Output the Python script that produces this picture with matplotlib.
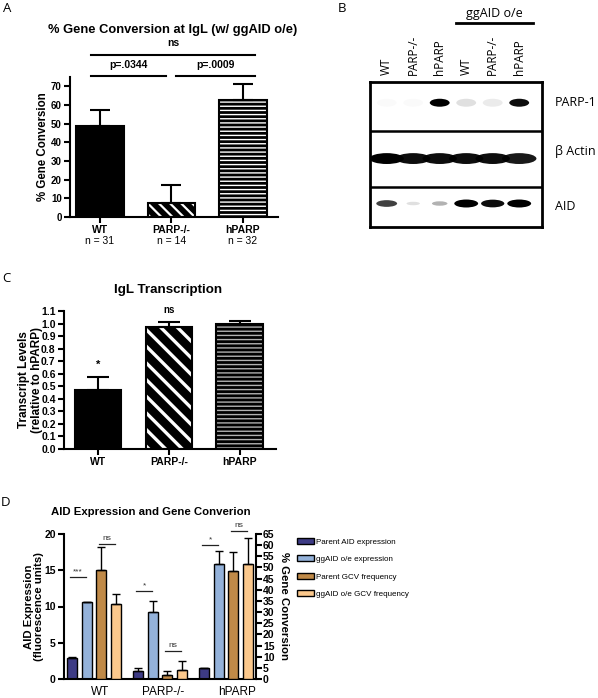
import matplotlib
matplotlib.use('Agg')
import matplotlib.pyplot as plt
from matplotlib.patches import Ellipse, Patch
from matplotlib.lines import Line2D
from matplotlib.transforms import blended_transform_factory
import numpy as np

plt.rcParams['font.family'] = ['Liberation Sans', 'DejaVu Sans']

W, H = 598, 698

# ---------------- data ----------------
# Panel A - % gene conversion at IgL (ggAID o/e)
a_groups = ['WT', 'PARP-/-', 'hPARP']
a_counts = ['n = 31', 'n = 14', 'n = 32']
a_means = [48.5, 7.5, 62.5]
a_errs = [9.0, 9.5, 9.0]

# Panel B - western blot, relative band strength per lane
b_lanes = ['WT', 'PARP-/-', 'hPARP', 'WT', 'PARP-/-', 'hPARP']
b_rows = ['PARP-1', 'β Actin', 'AID']
b_parp1 = [0.02, 0.02, 1.0, 0.12, 0.08, 0.95]
b_actin = [1.0, 0.95, 0.95, 0.95, 0.95, 0.9]
b_aid = [0.75, 0.12, 0.3, 1.0, 0.95, 1.0]

# Panel C - IgL transcription (relative to hPARP)
c_means = [0.47, 0.97, 1.0]
c_errs = [0.105, 0.04, 0.02]

# Panel D - AID expression (left axis) and gene conversion (right axis)
d_groups = ['WT', 'PARP-/-', 'hPARP']
d_parent_aid = [2.9, 1.1, 1.5]
d_parent_aid_err = [0.08, 0.42, 0.05]
d_oe_aid = [10.6, 9.2, 15.9]
d_oe_aid_err = [0.06, 1.5, 1.7]
d_parent_gcv = [48.8, 1.8, 48.2]
d_parent_gcv_err = [10.5, 2.0, 8.9]
d_oe_gcv = [33.5, 3.9, 51.7]
d_oe_gcv_err = [4.5, 4.1, 11.7]
d_labels = ['Parent AID expression', 'ggAID o/e expression',
            'Parent GCV frequency', 'ggAID o/e GCV frequency']
d_colors = ['#3d3b85', '#94b2da', '#c08a48', '#fbc88c']
# (group, first bar, second bar, height in % units, label)
d_sig = [(0, 0, 1, 45.6, '***'), (0, 2, 3, 60.7, 'ns'),
         (1, 0, 1, 39.5, '*'), (1, 2, 3, 12.6, 'ns'),
         (2, 0, 1, 60.0, '*'), (2, 2, 3, 66.4, 'ns')]


def px_axes(fig, left, top, right, bottom):
    """Add axes from pixel box (origin top-left)."""
    return fig.add_axes([left / W, 1 - bottom / H,
                         (right - left) / W, (bottom - top) / H])


def fig_text(fig, x, y, s, **kw):
    fig.text(x / W, 1 - y / H, s, **kw)


def style_axes(ax, lw=1.5, ticklen=4, size=7):
    for side in ['top', 'right']:
        ax.spines[side].set_visible(False)
    for side in ['left', 'bottom']:
        ax.spines[side].set_linewidth(lw)
    ax.tick_params(direction='out', length=ticklen, width=lw, labelsize=size, pad=2)
    for lab in ax.get_yticklabels() + ax.get_xticklabels():
        lab.set_fontweight('bold')


def hatched_bar(ax, x, h, width, hatch, hatch_color, hatch_lw):
    with plt.rc_context({'hatch.linewidth': hatch_lw}):
        ax.bar(x, h, width, color='black', edgecolor=hatch_color,
               hatch=hatch, linewidth=0)
    ax.bar(x, h, width, fill=False, edgecolor='black', linewidth=1.5)


def set_ylabel_at(ax, text, x, size, rotation=90):
    ax.set_ylabel(text, fontsize=size, fontweight='bold', linespacing=1.1,
                  rotation=rotation)
    ax.yaxis.label.set_va('center')
    ax.yaxis.label.set_ha('center')
    ax.yaxis.set_label_coords(x, 0.5)


fig = plt.figure(figsize=(W / 100, H / 100), dpi=100)

# ---------------- panel letters ----------------
for letter, (x, y) in zip('ABCD', [(7, 9), (342, 8), (6, 278), (6, 502)]):
    fig_text(fig, x, y, letter, family='Open Sans', fontsize=9.5,
             ha='center', va='center')

# ======================== PANEL A ========================
ax_a = px_axes(fig, 70, 77, 278, 217)
xa = np.arange(len(a_groups))
ax_a.bar(xa[0], a_means[0], 0.68, color='black', edgecolor='black', linewidth=1.5)
hatched_bar(ax_a, xa[1], a_means[1], 0.66, '\\\\\\', 'white', 1.6)
hatched_bar(ax_a, xa[2], a_means[2], 0.66, '----', 'white', 1.0)
ax_a.errorbar(xa, a_means, yerr=[np.zeros(3), a_errs], fmt='none',
              ecolor='black', elinewidth=1.5, capsize=7.5, capthick=1.5)
ax_a.set_xlim(-0.42, 2.49)
ax_a.set_ylim(0, 75)
ax_a.set_yticks(np.arange(0, 71, 10))
ax_a.set_xticks(xa)
ax_a.set_xticklabels(a_groups)
set_ylabel_at(ax_a, '% Gene Conversion', -0.13, 8.3)
style_axes(ax_a)
ax_a.tick_params(axis='x', labelsize=7.5)
ta = ax_a.get_xaxis_transform()
for xi, n in zip(xa, a_counts):
    ax_a.text(xi, -0.17, n, transform=ta, ha='center', va='center', fontsize=7.5)

# significance bars
for x0, x1, y, lab, ty in [(-0.13, 2.17, 86.9, 'ns', 90.4),
                           (-0.13, 0.92, 75.4, 'p=.0344', 78.9),
                           (1.06, 2.17, 75.4, 'p=.0009', 78.9)]:
    ax_a.plot([x0, x1], [y, y], color='black', lw=1.5, clip_on=False)
    ax_a.text((x0 + x1) / 2, ty, lab, ha='center', va='bottom',
              fontsize=7.5, fontweight='bold')

fig_text(fig, 173, 30, '% Gene Conversion at IgL (w/ ggAID o/e)',
         ha='center', va='center', fontsize=9.3, fontweight='bold')

# ======================== PANEL B ========================
ax_b = px_axes(fig, 370, 82, 542, 227)
ax_b.set_xlim(-0.63, 5.86)
ax_b.set_ylim(0, 1)
ax_b.set_xticks([])
ax_b.set_yticks([])
for sp in ax_b.spines.values():
    sp.set_linewidth(2)
ax_b.axhline(0.662, color='black', lw=1.8)
ax_b.axhline(0.276, color='black', lw=1.8)

row_y = [0.857, 0.472, 0.162]
for i in range(len(b_lanes)):
    # PARP-1
    v = b_parp1[i]
    ax_b.add_patch(Ellipse((i, row_y[0]), 0.75, 0.055, color='black', alpha=v, lw=0))
    # beta actin
    v = b_actin[i]
    ax_b.add_patch(Ellipse((i, row_y[1]), 1.3, 0.075, color='black', alpha=v, lw=0))
    # AID
    v = b_aid[i]
    ax_b.add_patch(Ellipse((i, row_y[2]), 0.45 + 0.45 * v, 0.02 + 0.035 * v,
                           color='black', alpha=v, lw=0))

tb = blended_transform_factory(ax_b.transData, ax_b.transAxes)
for i, lab in enumerate(b_lanes):
    ax_b.text(i, 1.05, lab, transform=tb, rotation=90, ha='center', va='bottom',
              family='Open Sans', fontsize=8.5)
for lab, y in zip(b_rows, [102, 152, 206]):
    fig_text(fig, 555, y, lab, family='Open Sans', fontsize=9, ha='left', va='center')
fig_text(fig, 494, 13, 'ggAID o/e', family='Open Sans', fontsize=9,
         ha='center', va='center')
fig.add_artist(Line2D([456 / W, 533 / W], [1 - 23 / H, 1 - 23 / H],
                      color='black', lw=2))

# ======================== PANEL C ========================
ax_c = px_axes(fig, 64, 311, 276, 449)
xc = np.arange(3)
ax_c.bar(xc[0], c_means[0], 0.66, color='black', edgecolor='black', linewidth=1.5)
hatched_bar(ax_c, xc[1], c_means[1], 0.66, '\\\\', 'white', 2.4)
hatched_bar(ax_c, xc[2], c_means[2], 0.66, '----', '#b0b0b0', 1.0)
ax_c.errorbar(xc, c_means, yerr=[np.zeros(3), c_errs], fmt='none',
              ecolor='black', elinewidth=1.5, capsize=8, capthick=1.5)
ax_c.set_xlim(-0.48, 2.51)
ax_c.set_ylim(0, 1.1)
ax_c.set_yticks(np.arange(0, 1.11, 0.1))
ax_c.set_yticklabels([f'{v:.1f}' for v in np.arange(0, 1.11, 0.1)])
ax_c.set_xticks(xc)
ax_c.set_xticklabels(a_groups)
set_ylabel_at(ax_c, 'Transcript Levels\n(relative to hPARP)', -0.16, 8.5)
style_axes(ax_c, ticklen=4, size=7.5)
ax_c.text(xc[0], 0.63, '*', ha='center', va='bottom', fontsize=8, fontweight='bold')
ax_c.text(xc[1], 1.07, 'ns', ha='center', va='bottom', fontsize=7, fontweight='bold')
fig_text(fig, 168, 290, 'IgL Transcription', ha='center', va='center',
         fontsize=9.6, fontweight='bold')

# ======================== PANEL D ========================
ax_d = px_axes(fig, 64, 534, 256, 679)
ax_d2 = ax_d.twinx()
xd = np.arange(len(d_groups))
dx = 0.22
bw = 0.15
offs = (np.arange(4) - 1.5) * dx
series = [(ax_d, d_parent_aid, d_parent_aid_err), (ax_d, d_oe_aid, d_oe_aid_err),
          (ax_d2, d_parent_gcv, d_parent_gcv_err), (ax_d2, d_oe_gcv, d_oe_gcv_err)]
for k, (ax, vals, errs) in enumerate(series):
    ax.bar(xd + offs[k], vals, bw, color=d_colors[k], edgecolor='black', linewidth=1.0)
    ax.errorbar(xd + offs[k], vals, yerr=[np.zeros(3), errs], fmt='none',
                ecolor='black', elinewidth=1.0, capsize=3, capthick=1.0)

ax_d.set_xlim(-0.4545, 2.4545)
ax_d.set_ylim(0, 20)
ax_d2.set_ylim(0, 65)
ax_d.set_yticks(np.arange(0, 21, 5))
ax_d2.set_yticks(np.arange(0, 66, 5))
ax_d.set_xticks(xd + np.array([0.09, 0.045, 0.167]))
ax_d.set_xticklabels(d_groups)
style_axes(ax_d, ticklen=4, size=7.5)
ax_d.tick_params(axis='x', length=0, pad=5, labelsize=8.5)
for lab in ax_d.get_xticklabels():
    lab.set_fontweight('normal')
for side in ['top', 'left', 'bottom']:
    ax_d2.spines[side].set_visible(False)
ax_d2.spines['right'].set_linewidth(1.5)
ax_d2.tick_params(direction='out', length=4, width=1.5, labelsize=7.5, pad=1)
for lab in ax_d2.get_yticklabels():
    lab.set_fontweight('bold')
set_ylabel_at(ax_d, 'AID Expression\n(fluorescence units)', -0.156, 8.2)
set_ylabel_at(ax_d2, '% Gene Conversion', 1.145, 8.2, rotation=270)

for g, i, j, y, lab in d_sig:
    x0 = xd[g] + offs[i] - 0.03
    x1 = xd[g] + offs[j] - 0.01
    ax_d2.plot([x0, x1], [y, y], color='#222222', lw=0.9, clip_on=False)
    ax_d2.text((x0 + x1) / 2, y + 0.8, lab, ha='center', va='bottom',
               fontsize=6, color='#333333')

fig_text(fig, 151, 512, 'AID Expression and Gene Converion', ha='center',
         va='center', fontsize=8.2, fontweight='bold')

handles = [Patch(facecolor=c, edgecolor='black', linewidth=1.0) for c in d_colors]
fig.legend(handles, d_labels, loc='upper left',
           bbox_to_anchor=(297 / W, 1 - 538 / H), frameon=False,
           borderaxespad=0, borderpad=0, fontsize=5.8, handlelength=2.1,
           handleheight=0.75, handletextpad=0.25, labelspacing=1.2)

fig.savefig('out.png', dpi=100)
